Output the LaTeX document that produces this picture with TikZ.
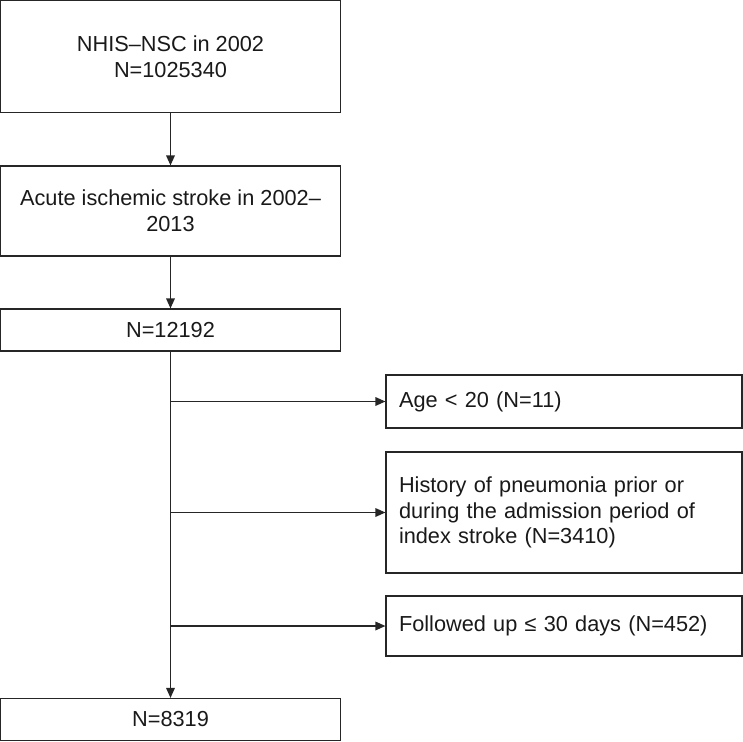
\documentclass[tikz,border=0pt]{standalone}
\usepackage{fontspec}
\setmainfont{Liberation Sans}
\usetikzlibrary{arrows.meta}
\begin{document}
\begin{tikzpicture}[x=0.75pt,y=-0.75pt,
  box/.style={draw=black!85,line width=0.9pt,inner sep=0pt,font=\fontsize{16.3}{19.2}\selectfont,text=black!90},
  arr/.style={draw=black!85,line width=0.9pt,-{Triangle[length=7.5pt,width=6.5pt]}}]
\useasboundingbox (0,0) rectangle (743,742);
\node[box,minimum width=340*0.75pt,minimum height=112*0.75pt,align=center] (a) at (170.5,56.5) {NHIS–NSC in 2002\\N=1025340};
\node[box,minimum width=340*0.75pt,minimum height=90*0.75pt,align=center] (b) at (170.5,211) {Acute ischemic stroke in 2002–\\2013};
\node[box,minimum width=340*0.75pt,minimum height=42*0.75pt,align=center] (c) at (170.5,330) {N=12192};
\node[box,minimum width=340*0.75pt,minimum height=42*0.75pt,align=center] (g) at (170.5,719.5) {N=8319};
\node[box,minimum width=356*0.75pt,minimum height=53*0.75pt,text width=330*0.75pt,align=left] (d) at (564,401.5) {Age < 20 (N=11)};
\node[box,minimum width=356*0.75pt,minimum height=121*0.75pt,text width=330*0.75pt,align=left] (e) at (564,512.5) {History of pneumonia prior or\\during the admission period of\\index stroke (N=3410)};
\node[box,minimum width=356*0.75pt,minimum height=60*0.75pt,text width=330*0.75pt,align=left] (f) at (564,626) {Followed up ≤ 30 days (N=452)};
\draw[arr] (a.south) -- (b.north);
\draw[arr] (b.south) -- (c.north);
\draw[arr] (c.south) -- (g.north);
\coordinate (p1) at (c.south |- d.west);
\coordinate (p2) at (c.south |- e.west);
\coordinate (p3) at (c.south |- f.west);
\draw[arr] (p1) -- (d.west);
\draw[arr] (p2) -- (e.west);
\draw[arr] (p3) -- (f.west);
\end{tikzpicture}
\end{document}
